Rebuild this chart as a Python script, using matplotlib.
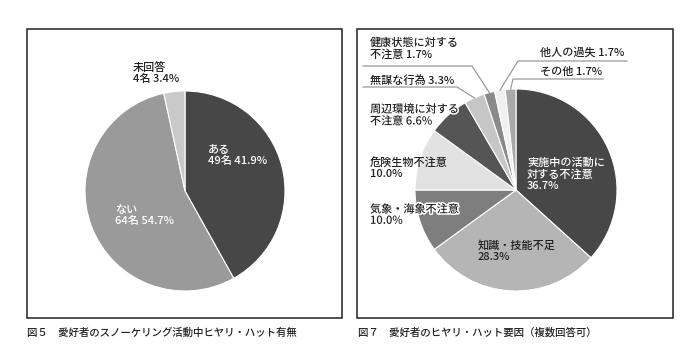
import numpy as np
import matplotlib.pyplot as plt
import matplotlib.patheffects as pe
from matplotlib.patches import Rectangle

plt.rcParams['font.family'] = ['Noto Sans CJK JP', 'DejaVu Sans']
plt.rcParams['font.weight'] = 'medium'

# 図5 data
left_labels = ['ある\n49名 41.9%', 'ない\n64名 54.7%', '未回答\n4名 3.4%']
left_values = [41.9, 54.7, 3.4]
left_colors = ['#474747', '#9a9a9a', '#c9c9c9']

# 図7 data
right_labels = ['実施中の活動に\n対する不注意\n36.7%', '知識・技能不足\n28.3%',
                '気象・海象不注意\n10.0%', '危険生物不注意\n10.0%',
                '周辺環境に対する\n不注意 6.6%', '無謀な行為 3.3%',
                '健康状態に対する\n不注意 1.7%', '他人の過失 1.7%', 'その他 1.7%']
right_values = [36.7, 28.3, 10.0, 10.0, 6.6, 3.3, 1.7, 1.7, 1.7]
right_colors = ['#474747', '#b5b5b5', '#7e7e7e', '#e2e2e2', '#555555',
                '#c6c6c6', '#8a8a8a', '#f0f0f0', '#a9a9a9']

captions = ['図５　愛好者のスノーケリング活動中ヒヤリ・ハット有無',
            '図７　愛好者のヒヤリ・ハット要因（複数回答可）']

W, H = 700, 353
fig = plt.figure(figsize=(W / 100, H / 100), dpi=100)

# overlay axes in pixel coords (y down)
ov = fig.add_axes([0, 0, 1, 1], zorder=5)
ov.set_xlim(0, W)
ov.set_ylim(H, 0)
ov.axis('off')
ov.patch.set_alpha(0)

ov.add_patch(Rectangle((27, 29), 315, 289, fill=False, ec='#222222', lw=1.1))
ov.add_patch(Rectangle((357, 29), 316, 289, fill=False, ec='#222222', lw=1.1))


def pie_axes(cx, cy, r):
    return fig.add_axes([(cx - r) / W, (H - cy - r) / H, 2 * r / W, 2 * r / H])


def finish(ax):
    ax.set_xlim(-1, 1)
    ax.set_ylim(-1, 1)
    ax.axis('off')


def edge_point(values, i, cx, cy, r):
    cum = np.cumsum([0] + list(values))
    mid = (cum[i] + cum[i + 1]) / 2 / sum(values) * 2 * np.pi
    return cx + r * np.sin(mid), cy - r * np.cos(mid)


fs = 8.0
txt = '#222222'
halo = [pe.withStroke(linewidth=2.2, foreground='white')]

# left pie
lcx, lcy, lr = 185, 191, 100
axl = pie_axes(lcx, lcy, lr)
axl.pie(left_values, colors=left_colors, startangle=90, counterclock=False,
        wedgeprops=dict(edgecolor='white', linewidth=0.8))
finish(axl)

left_pos = [(208, 145, 'white'), (115, 205, 'white'), (133, 62, txt)]
for lab, (x, y, c) in zip(left_labels, left_pos):
    ov.text(x, y, lab, fontsize=fs, color=c, va='top', ha='left', linespacing=1.15)

# right pie
rcx, rcy, rr = 516, 190, 101
axr = pie_axes(rcx, rcy, rr)
axr.pie(right_values, colors=right_colors, startangle=90, counterclock=False,
        wedgeprops=dict(edgecolor='white', linewidth=0.8))
finish(axr)

right_pos = [(527, 158, 'white', None), (478, 240, txt, None),
             (370, 204, txt, halo), (370, 157, txt, None),
             (370, 104, txt, halo), (370, 75, txt, None),
             (370, 38, txt, None), (540, 47, txt, None),
             (540, 67, txt, None)]
for lab, (x, y, c, eff) in zip(right_labels, right_pos):
    ov.text(x, y, lab, fontsize=fs, color=c, va='top', ha='left', linespacing=1.15,
            path_effects=eff)

# leader lines: (index, underline y, x start, x elbow)
leaders = [(5, 87, 363, 457), (6, 66, 363, 472), (7, 61, 627, 518), (8, 79, 603, 513)]
for i, yu, x0, x1 in leaders:
    ex, ey = edge_point(right_values, i, rcx, rcy, rr)
    ov.plot([x0, x1, ex], [yu, yu, ey], color='#9a9a9a', lw=0.9, zorder=1)

ov.text(27, 333, captions[0], fontsize=7.5, color=txt, va='center', ha='left')
ov.text(358, 333, captions[1], fontsize=7.5, color=txt, va='center', ha='left')

fig.savefig('out.png', dpi=100, facecolor='white')
